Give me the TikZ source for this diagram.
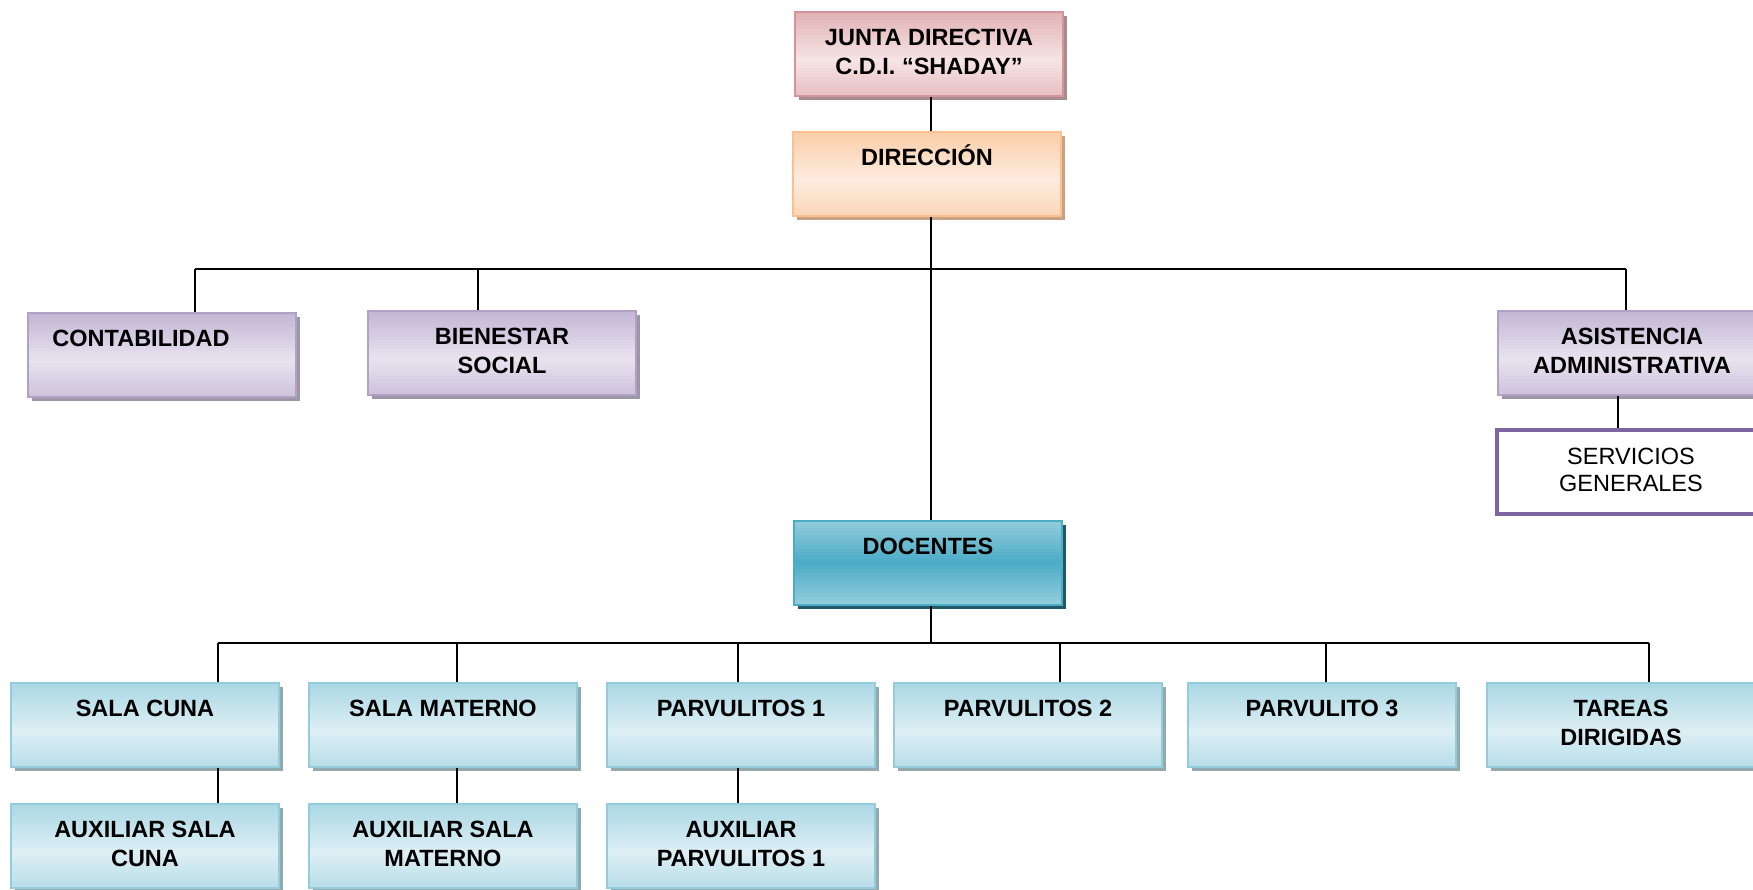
\documentclass[tikz,border=0pt]{standalone}
\usepackage{fontspec}
\setmainfont{Liberation Sans}
\usetikzlibrary{shadows}
\definecolor{RoseDark}{HTML}{D99A9E}
\definecolor{RoseSoft}{HTML}{F6E4E5}
\definecolor{RoseLine}{HTML}{D4959A}
\definecolor{RoseShadow}{HTML}{A88C8D}
\definecolor{PeachDark}{HTML}{FAC08F}
\definecolor{PeachSoft}{HTML}{FDECDF}
\definecolor{PeachShadow}{HTML}{C9A283}
\definecolor{LilacDark}{HTML}{B2A1C7}
\definecolor{LilacSoft}{HTML}{E8E3EF}
\definecolor{LilacShadow}{HTML}{9D96A6}
\definecolor{SkyDark}{HTML}{93CDDD}
\definecolor{SkySoft}{HTML}{DDEFF4}
\definecolor{SkyShadow}{HTML}{93A9B0}
\definecolor{Teal}{HTML}{4BACC6}
\definecolor{TealShadow}{HTML}{215968}
\definecolor{Violet}{HTML}{8064A2}
\tikzset{
  orgbox/.style={line width=1.5pt,minimum width=268pt,minimum height=84pt,inner sep=0pt},
  shadowed/.style={drop shadow={shadow xshift=4pt,shadow yshift=-4pt,fill=#1,opacity=1}},
  % tilted light band across the box
  diag/.style 2 args={fill=#1,path picture={
    \begin{scope}[shift={(path picture bounding box.center)},rotate=-12]
      \foreach \k in {-28,...,28}{
        \pgfmathsetmacro\mixv{max(0,100-abs(\k)*300/70)}
        \fill[#2!\mixv!#1] (-200pt,{-8pt-3pt*(\k)}) rectangle (200pt,{-4.6pt-3pt*(\k)});
      }
    \end{scope}}},
  % dark band in the middle
  bandfill/.style 2 args={fill=#2,path picture={
    \begin{scope}[shift={(path picture bounding box.center)}]
      \foreach \k in {-15,...,15}{
        \pgfmathsetmacro\mixv{min(100,abs(\k)*300/42)}
        \fill[#1!\mixv!#2] (-200pt,{-1.7pt-3pt*(\k)}) rectangle (200pt,{1.7pt-3pt*(\k)});
      }
    \end{scope}}},
  juntabox/.style={orgbox,draw=RoseLine,diag={RoseDark}{RoseSoft},shadowed=RoseShadow},
  dirbox/.style={orgbox,draw=PeachDark,diag={PeachDark}{PeachSoft},shadowed=PeachShadow},
  lilacbox/.style={orgbox,draw=LilacDark,diag={LilacDark}{LilacSoft},shadowed=LilacShadow},
  skybox/.style={orgbox,draw=SkyDark,diag={SkyDark}{SkySoft},shadowed=SkyShadow},
  docbox/.style={orgbox,draw=Teal,bandfill={SkyDark}{Teal},shadowed=TealShadow},
  servbox/.style={orgbox,draw=Violet,line width=4pt,fill=white},
  boxtext/.style={anchor=north,yshift=-17.5pt,inner sep=0pt,align=center,font=\fontsize{23.5}{29}\selectfont\bfseries},
  link/.style={draw=black,line width=1.6pt}
}
\begin{document}
\begin{tikzpicture}[x=1pt,y=-1pt]
  \useasboundingbox (0,0) rectangle (1753,890);
  \clip (0,0) rectangle (1753,890);
  \coordinate (spine) at (931,0);
  % top of the chart
  \node[juntabox,label={[boxtext,name=juntaT]north:JUNTA DIRECTIVA\\C.D.I. “SHADAY”}] (junta) at (929,54) {};
  \node[dirbox,label={[boxtext,text height=16.8pt,name=direccionT]north:DIRECCIÓN}] (direccion) at (927,174) {};
  \draw[link] (junta.south -| spine) -- (direccion.north -| spine);
  % administrative branch
  \coordinate (busA) at (195,269); \coordinate (busB) at (478,269); \coordinate (busC) at (1626,269);
  \node[lilacbox,label={[boxtext,xshift=-21pt,name=contabT]north:CONTABILIDAD}] (contab) at (162,355) {};
  \node[lilacbox,label={[boxtext,name=bienestarT]north:BIENESTAR\\SOCIAL}] (bienestar) at (502,353) {};
  \node[lilacbox,label={[boxtext,name=asistT]north:ASISTENCIA\\ADMINISTRATIVA}] (asist) at (1632,353) {};
  \node[servbox,label={[boxtext,yshift=-2pt,font=\fontsize{23.5}{27}\selectfont,name=serviciosT]north:SERVICIOS\\GENERALES}] (servicios) at (1631,472) {};
  \draw[link] (busA) -- (busC);
  \draw[link] (busA) -- (busA |- contab.north);
  \draw[link] (busB) -- (busB |- bienestar.north);
  \draw[link] (busC) -- (busC |- asist.north);
  \draw[link] ([xshift=-14pt]asist.south) -- ([xshift=-13pt]servicios.north);
  % teaching branch
  \node[docbox,label={[boxtext,name=docentesT]north:DOCENTES}] (docentes) at (928,563) {};
  \draw[link] (direccion.south -| spine) -- (docentes.north -| spine);
  \coordinate (busL) at (218,643); \coordinate (busR) at (1649,643);
  \draw[link] (docentes.south -| spine) -- (busL -| spine);
  \draw[link] (busL) -- (busR);
  \foreach \n/\x/\bx/\txt in {cuna/145/218/SALA CUNA,materno/443/457/SALA MATERNO,parvA/741/738/PARVULITOS 1,parvB/1028/1060/PARVULITOS 2,parvC/1322/1326/PARVULITO 3,tareas/1621/1649/TAREAS\\DIRIGIDAS}{
    \node[skybox,label={[boxtext]north:\txt}] (\n) at (\x,725) {};
    \coordinate (bus\n) at (\bx,643);
    \draw[link] (bus\n) -- (bus\n |- \n.north);
  }
  % assistants
  \foreach \n/\p/\x/\txt in {auxcuna/cuna/145/AUXILIAR SALA\\CUNA,auxmaterno/materno/443/AUXILIAR SALA\\MATERNO,auxparv/parvA/741/AUXILIAR\\PARVULITOS 1}{
    \node[skybox,label={[boxtext]north:\txt}] (\n) at (\x,846) {};
    \draw[link] (bus\p |- \p.south) -- (bus\p |- \n.north);
  }
\end{tikzpicture}
\end{document}
